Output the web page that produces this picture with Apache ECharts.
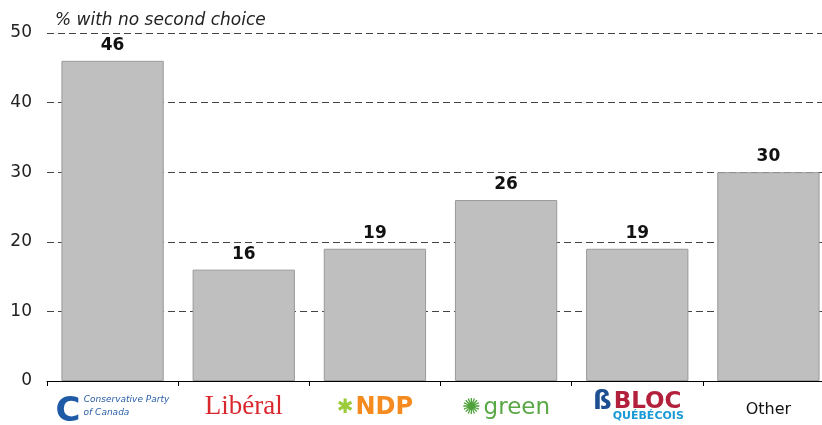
<!DOCTYPE html>
<html>
<head>
<meta charset="utf-8">
<script src="https://cdn.jsdelivr.net/npm/echarts@6/dist/echarts.min.js"></script>
<style>html,body{margin:0;padding:0;background:#fff}#c{width:822px;height:425px}</style>
</head>
<body>
<div id="c"></div>
<script>
const categories = ['Conservative', 'Liberal', 'NDP', 'Green', 'Bloc', 'Other'];
const values = [46, 16, 19, 26, 19, 30];
const yTicks = [0, 10, 20, 30, 40, 50];
const title = '% with no second choice';

const labelFormats = {
  Conservative: '{cs|}{ct|Conservative Party}\n{cc|C}{ct|of Canada}',
  Liberal: '{lib|Libéral}',
  NDP: '{leaf|✱}{ndp|NDP}',
  Green: '{gf|✺}{gr|green}',
  Bloc: '{bs|ß}{bl|BLOC}\n{bs2|}{bq|QUÉBÉCOIS}',
  Other: '{oth|Other}'
};

const chart = echarts.init(document.getElementById('c'), null, {renderer: 'canvas'});
chart.setOption({
  animation: false,
  textStyle: {fontFamily: 'DejaVu Sans'},
  title: {
    text: title, left: 50, top: 7,
    textStyle: {fontStyle: 'italic', fontWeight: 'normal', fontSize: 17, color: '#222', fontFamily: 'DejaVu Sans'}
  },
  grid: {left: 47, width: 787, top: 33, bottom: 44, containLabel: false, outerBoundsMode: 'none'},
  xAxis: {
    type: 'category', data: categories,
    axisLine: {lineStyle: {color: '#000', width: 1}},
    axisTick: {show: true, length: 5, lineStyle: {color: '#000'}},
    axisLabel: {
      interval: 0, margin: 12,
      formatter: v => labelFormats[v],
      rich: {
        cc: {fontSize: 34, fontWeight: 'bold', color: '#1f5aa6', fontFamily: 'DejaVu Sans', lineHeight: 13, width: 28, align: 'left'},
        ct: {fontSize: 9, fontStyle: 'italic', color: '#2a5ea8', fontFamily: 'DejaVu Sans', lineHeight: 13, width: 86, align: 'left'},
        cs: {width: 28, lineHeight: 13},
        lib: {fontSize: 27, color: '#d9272e', fontFamily: 'Liberation Serif', lineHeight: 28},
        leaf: {fontSize: 20, color: '#9ccb3b', padding: [0, 2, 0, 0], lineHeight: 30},
        ndp: {fontSize: 24, fontWeight: 'bold', color: '#f58b1f', fontFamily: 'DejaVu Sans', lineHeight: 30},
        gf: {fontSize: 22, color: '#4ea23a', padding: [0, 3, 0, 0], lineHeight: 30},
        gr: {fontSize: 23, color: '#58a845', fontFamily: 'DejaVu Sans', lineHeight: 30},
        bs: {fontSize: 26, fontWeight: 'bold', color: '#1d4f91', fontFamily: 'DejaVu Sans', padding: [0, 2, 0, 0], lineHeight: 18},
        bl: {fontSize: 23, fontWeight: 'bold', color: '#b3203c', fontFamily: 'DejaVu Sans', lineHeight: 18},
        bs2: {width: 22, lineHeight: 11},
        bq: {fontSize: 11, fontWeight: 'bold', color: '#1a9ad6', fontFamily: 'DejaVu Sans', lineHeight: 11},
        oth: {fontSize: 16, color: '#111', fontFamily: 'DejaVu Sans', lineHeight: 34}
      }
    }
  },
  yAxis: {
    type: 'value', min: yTicks[0], max: yTicks[yTicks.length - 1], interval: 10,
    axisLine: {show: false},
    axisTick: {show: false},
    axisLabel: {fontSize: 17, color: '#222', margin: 15},
    splitLine: {lineStyle: {type: [7, 4], color: '#444', width: 1}}
  },
  series: [{
    type: 'bar', data: values, barWidth: '78%',
    itemStyle: {color: '#bfbfbf', borderColor: '#9a9a9a', borderWidth: 1},
    label: {show: true, position: 'top', distance: 7, fontSize: 17, fontWeight: 'bold', color: '#111', fontFamily: 'DejaVu Sans'},
    z: 3
  }]
});
</script>
</body>
</html>
